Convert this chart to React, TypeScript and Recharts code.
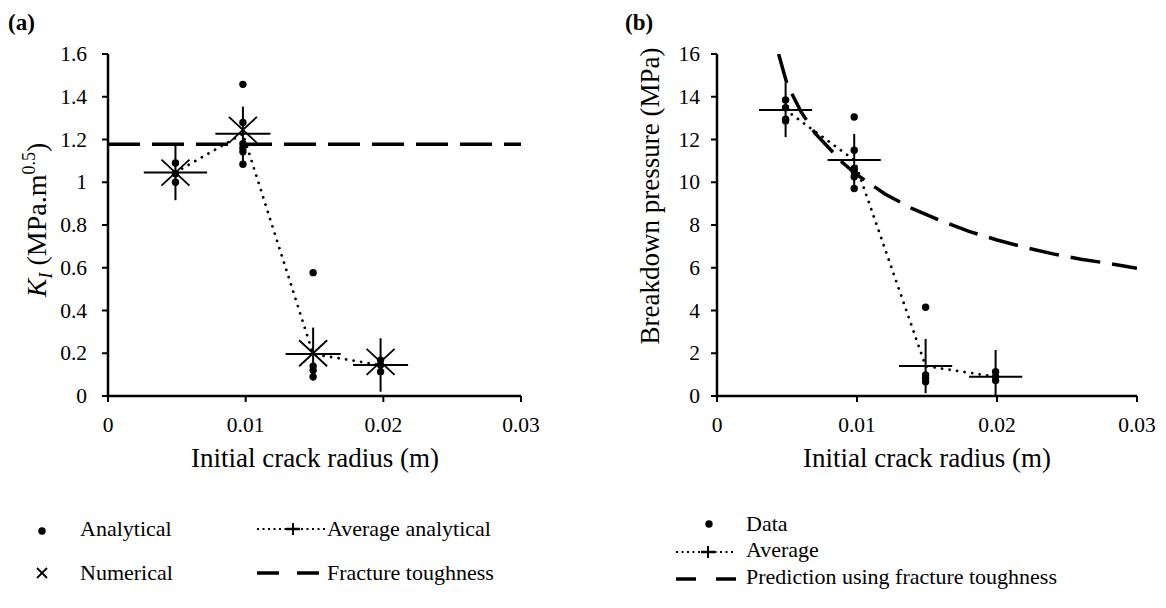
import React from 'react';
import { ComposedChart, XAxis, YAxis, Scatter, Line, ErrorBar } from 'recharts';

// ---------- shared ----------
const radiusTicks = [0, 0.01, 0.02, 0.03];
const kTicks = [0, 0.2, 0.4, 0.6, 0.8, 1, 1.2, 1.4, 1.6];
const pressureTicks = [0, 2, 4, 6, 8, 10, 12, 14, 16];

// ---------- panel (a) ----------
const analyticalRadius = [0.0049, 0.0049, 0.0049, 0.0098, 0.0098, 0.0098, 0.0098, 0.0098, 0.0098, 0.0149, 0.0149, 0.0149, 0.0149, 0.0198, 0.0198, 0.0198];
const analyticalK = [1.09, 1.04, 1.0, 1.458, 1.28, 1.18, 1.16, 1.143, 1.084, 0.577, 0.14, 0.12, 0.09, 0.168, 0.145, 0.114];

const numericalRadius = [0.0049, 0.0098, 0.0149, 0.0198];
const numericalK = [1.045, 1.245, 0.2, 0.16];

const avgRadiusA = [0.0049, 0.0098, 0.0149, 0.0198];
const avgK = [1.046, 1.227, 0.196, 0.145];
const avgKErrY = [0.13, 0.127, 0.124, 0.125];
const avgKErrX = [0.0023, 0.002, 0.002, 0.002];

const toughnessRadius = [0, 0.03];
const toughnessK = [1.178, 1.178];

// ---------- panel (b) ----------
const dataRadius = [0.0049, 0.0049, 0.0049, 0.0049, 0.0098, 0.0098, 0.0098, 0.0098, 0.0098, 0.0098, 0.0149, 0.0149, 0.0149, 0.0149, 0.0199, 0.0199, 0.0199];
const dataPressure = [13.85, 13.49, 12.95, 12.87, 13.05, 11.5, 10.65, 10.5, 10.26, 9.71, 4.15, 0.98, 0.83, 0.67, 1.14, 0.9, 0.72];

const avgRadiusB = [0.0049, 0.0098, 0.0149, 0.0199];
const avgPressure = [13.38, 11.04, 1.4, 0.9];
const avgPressureErrLow = [1.27, 1.22, 1.27, 0.9];
const avgPressureErrHigh = [1.27, 1.22, 1.27, 1.25];
const avgPressureErrX = [0.0019, 0.0019, 0.0019, 0.0019];

const predictionRadius = [0.0044, 0.005, 0.006, 0.007, 0.008, 0.009, 0.01, 0.012, 0.014, 0.016, 0.018, 0.02, 0.022, 0.024, 0.026, 0.028, 0.03];
const predictionPressure = [16.0, 14.6, 13.3, 12.3, 11.6, 10.9, 10.35, 9.45, 8.75, 8.2, 7.7, 7.3, 6.95, 6.65, 6.4, 6.2, 5.97];

// ---------- build tables ----------
const zip = (xs: number[], ys: number[]) => xs.map((x, i) => ({ x, y: ys[i] }));

const analyticalData = zip(analyticalRadius, analyticalK);
const numericalData = zip(numericalRadius, numericalK);
const avgAData = avgRadiusA.map((x, i) => ({ x, y: avgK[i], ey: avgKErrY[i], ex: avgKErrX[i] }));
const toughnessData = zip(toughnessRadius, toughnessK);

const dataB = zip(dataRadius, dataPressure);
const avgBData = avgRadiusB.map((x, i) => ({ x, y: avgPressure[i], ey: [avgPressureErrLow[i], avgPressureErrHigh[i]], ex: avgPressureErrX[i] }));
const predictionData = zip(predictionRadius, predictionPressure);

const FONT = "'Liberation Serif', 'Times New Roman', serif";
const axisLineStyle = { stroke: '#000', strokeWidth: 2.5 };
const tickLineStyle = { stroke: '#000', strokeWidth: 2 };

const XTick = (p: any) => (
  <text x={p.x} y={p.y} dy={15} textAnchor="middle" fontFamily={FONT} fontSize={21.5} fill="#000">
    {p.payload.value}
  </text>
);
const YTick = (p: any) => (
  <text x={p.x} y={p.y} dy={7} textAnchor="end" fontFamily={FONT} fontSize={21.5} fill="#000">
    {p.payload.value}
  </text>
);

const Dot = (p: any) => <circle cx={p.cx} cy={p.cy} r={3.7} fill="#000" />;
const BigX = (p: any) => (
  <g stroke="#000" strokeWidth={1.8}>
    <line x1={p.cx - 14} y1={p.cy - 13} x2={p.cx + 14} y2={p.cy + 13} />
    <line x1={p.cx - 14} y1={p.cy + 13} x2={p.cx + 14} y2={p.cy - 13} />
  </g>
);
const NoShape = () => <g />;

const CW = 583;
const CH = 480;

function PanelA() {
  return (
    <ComposedChart width={CW} height={CH} margin={{ top: 54, right: 62, bottom: 44, left: 58 }} style={{ fontFamily: FONT }}>
      <XAxis dataKey="x" type="number" domain={[0, 0.03]} ticks={radiusTicks} allowDataOverflow
        height={40} tick={XTick} axisLine={axisLineStyle} tickLine={tickLineStyle} tickSize={6} tickMargin={15} />
      <YAxis type="number" domain={[0, 1.6]} ticks={kTicks} allowDataOverflow width={50}
        tick={YTick} axisLine={axisLineStyle} tickLine={tickLineStyle} tickSize={6} tickMargin={15} />
      <Line data={toughnessData} dataKey="y" stroke="#000" strokeWidth={3.5} strokeDasharray="32 12" dot={false} isAnimationActive={false} />
      <Line data={avgAData} dataKey="y" stroke="#000" strokeWidth={2.8} strokeDasharray="0.01 7.6" strokeLinecap="round" dot={false} isAnimationActive={false} />
      <Scatter data={avgAData} dataKey="y" shape={NoShape} isAnimationActive={false}>
        <ErrorBar dataKey="ey" direction="y" width={0} stroke="#000" strokeWidth={2} />
        <ErrorBar dataKey="ex" direction="x" width={0} stroke="#000" strokeWidth={2} />
      </Scatter>
      <Scatter data={analyticalData} dataKey="y" shape={Dot} isAnimationActive={false} />
      <Scatter data={numericalData} dataKey="y" shape={BigX} isAnimationActive={false} />
    </ComposedChart>
  );
}

function PanelB() {
  return (
    <ComposedChart width={CW} height={CH} margin={{ top: 54, right: 29, bottom: 44, left: 84 }} style={{ fontFamily: FONT }}>
      <XAxis dataKey="x" type="number" domain={[0, 0.03]} ticks={radiusTicks} allowDataOverflow
        height={40} tick={XTick} axisLine={axisLineStyle} tickLine={tickLineStyle} tickSize={6} tickMargin={15} />
      <YAxis type="number" domain={[0, 16]} ticks={pressureTicks} allowDataOverflow width={50}
        tick={YTick} axisLine={axisLineStyle} tickLine={tickLineStyle} tickSize={6} tickMargin={11} />
      <Line data={predictionData} dataKey="y" stroke="#000" strokeWidth={3.5} strokeDasharray="30 12" dot={false} isAnimationActive={false} />
      <Line data={avgBData} dataKey="y" stroke="#000" strokeWidth={2.8} strokeDasharray="0.01 7.6" strokeLinecap="round" dot={false} isAnimationActive={false} />
      <Scatter data={avgBData} dataKey="y" shape={NoShape} isAnimationActive={false}>
        <ErrorBar dataKey="ey" direction="y" width={0} stroke="#000" strokeWidth={2} />
        <ErrorBar dataKey="ex" direction="x" width={0} stroke="#000" strokeWidth={2} />
      </Scatter>
      <Scatter data={dataB} dataKey="y" shape={Dot} isAnimationActive={false} />
    </ComposedChart>
  );
}

function Overlay() {
  const t = { fontFamily: FONT, fill: '#000' } as const;
  return (
    <svg width={1166} height={608} style={{ position: 'absolute', left: 0, top: 0, pointerEvents: 'none' }}>
      {/* panel titles */}
      <text x={8} y={30} fontSize={23} fontWeight="bold" {...t}>(a)</text>
      <text x={625} y={30} fontSize={23} fontWeight="bold" {...t}>(b)</text>

      {/* axis titles */}
      <text x={315} y={467} fontSize={27} textAnchor="middle" {...t}>Initial crack radius (m)</text>
      <text x={927} y={467} fontSize={27} textAnchor="middle" {...t}>Initial crack radius (m)</text>
      <text transform="translate(46,220) rotate(-90)" fontSize={28} textAnchor="middle" {...t}>
        <tspan fontStyle="italic">K</tspan>
        <tspan fontStyle="italic" fontSize={18} dy={6}>I</tspan>
        <tspan dy={-6}> (MPa.m</tspan>
        <tspan fontSize={18} dy={-11}>0.5</tspan>
        <tspan dy={11}>)</tspan>
      </text>
      <text transform="translate(659,196) rotate(-90)" fontSize={27} textAnchor="middle" {...t}>Breakdown pressure (MPa)</text>

      {/* legend (a) */}
      <circle cx={42} cy={531} r={3.7} fill="#000" />
      <text x={80} y={536} fontSize={22} {...t}>Analytical</text>
      <line x1={257} y1={529} x2={325} y2={529} stroke="#000" strokeWidth={2} strokeDasharray="2 3.5" />
      <line x1={286} y1={529} x2={300} y2={529} stroke="#000" strokeWidth={2.5} />
      <line x1={293} y1={523} x2={293} y2={535} stroke="#000" strokeWidth={2} />
      <text x={327} y={536} fontSize={22} {...t}>Average analytical</text>

      <g stroke="#000" strokeWidth={1.8}>
        <line x1={37} y1={568} x2={47} y2={578} />
        <line x1={37} y1={578} x2={47} y2={568} />
      </g>
      <text x={80} y={580} fontSize={22} {...t}>Numerical</text>
      <line x1={257} y1={573} x2={322} y2={573} stroke="#000" strokeWidth={3.5} strokeDasharray="22 18" />
      <text x={327} y={580} fontSize={22} {...t}>Fracture toughness</text>

      {/* legend (b) */}
      <circle cx={709} cy={524} r={3.7} fill="#000" />
      <text x={746} y={531} fontSize={22} {...t}>Data</text>
      <line x1={676} y1={552} x2={735} y2={552} stroke="#000" strokeWidth={2} strokeDasharray="2 3.5" />
      <line x1={701} y1={552} x2={715} y2={552} stroke="#000" strokeWidth={2.5} />
      <line x1={708} y1={546} x2={708} y2={558} stroke="#000" strokeWidth={2} />
      <text x={746} y={557} fontSize={22} {...t}>Average</text>
      <line x1={676} y1={579} x2={740} y2={579} stroke="#000" strokeWidth={3.5} strokeDasharray="20 20" />
      <text x={746} y={584} fontSize={22} {...t}>Prediction using fracture toughness</text>
    </svg>
  );
}

export default function App() {
  return (
    <div style={{ position: 'absolute', left: 0, top: 0, width: 1166, height: 608, background: '#fff' }}>
      <div style={{ position: 'absolute', left: 0, top: 0 }}>
        <PanelA />
      </div>
      <div style={{ position: 'absolute', left: 583, top: 0 }}>
        <PanelB />
      </div>
      <Overlay />
    </div>
  );
}
